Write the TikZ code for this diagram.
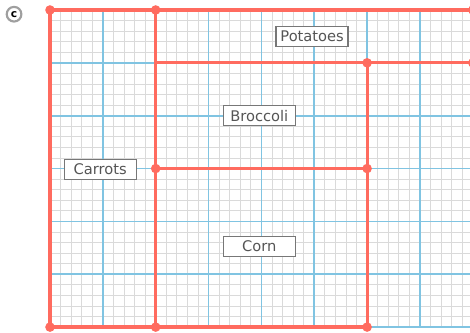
\documentclass[tikz,border=0pt]{standalone}
\usepackage{fontspec}
\setmainfont{DejaVu Sans}
\usetikzlibrary{positioning}
\definecolor{bedred}   {HTML}{FF6B5F}
\definecolor{majorblue}{HTML}{80C4E2}
\definecolor{minorgrey}{HTML}{DADADA}
\definecolor{labelgrey}{HTML}{555555}
\definecolor{boxgrey}  {HTML}{777777}

\begin{document}
\begin{tikzpicture}[x=39.64pt,y=39.64pt,
    bed/.style={draw=bedred, line width=2.4pt},
    croplabel/.style={draw=boxgrey, fill=white, line width=1pt, text=labelgrey,
                      font=\fontsize{11}{13}\selectfont, minimum width=54pt,
                      minimum height=15pt, inner xsep=2.5pt, inner ysep=0pt}]
  \useasboundingbox (-0.946,-0.095) rectangle (7.947,6.189);
  % squared paper
  \draw[minorgrey, line width=0.55pt, step=0.2] (0,0) grid (8,6);
  \draw[majorblue, line width=1.3pt, step=1] (0,0) grid (8,6);
  % corners of the beds
  \foreach \n/\p in {nw/{0,6}, nm/{2,6}, ne/{8,6}, pw/{2,5}, pm/{6,5}, pe/{8,5},
                     cm/{2,3}, ce/{6,3}, sw/{0,0}, sm/{2,0}, se/{6,0}}
    \coordinate (\n) at (\p);
  \draw[bed] (sw) -- (nw) -- (ne);
  \draw[bed] (nm) -- (sm);
  \draw[bed] (sw) -- (se) -- (pm);
  \draw[bed] (pw) -- (pe);
  \draw[bed] (cm) -- (ce);
  \foreach \n in {nw,nm,ne,pm,pe,cm,ce,sw,sm,se}
    \fill[bedred] (\n) circle (3.6pt);
  % crop names
  \node[croplabel] (potatoes) at (4.96,5.50) {Potatoes};
  \node[croplabel] (broccoli) at (3.96,4.00) {Broccoli};
  \node[croplabel] (carrots)  at (0.95,2.98) {Carrots};
  \node[croplabel] (corn)     at (3.96,1.53) {Corn};
  % panel mark
  \node[circle, draw=gray!75, line width=1.6pt, inner sep=0.6pt, minimum size=11pt,
        font=\bfseries\fontsize{8}{8}\selectfont] (panel) at (-0.68,5.92) {c};
\end{tikzpicture}
\end{document}
